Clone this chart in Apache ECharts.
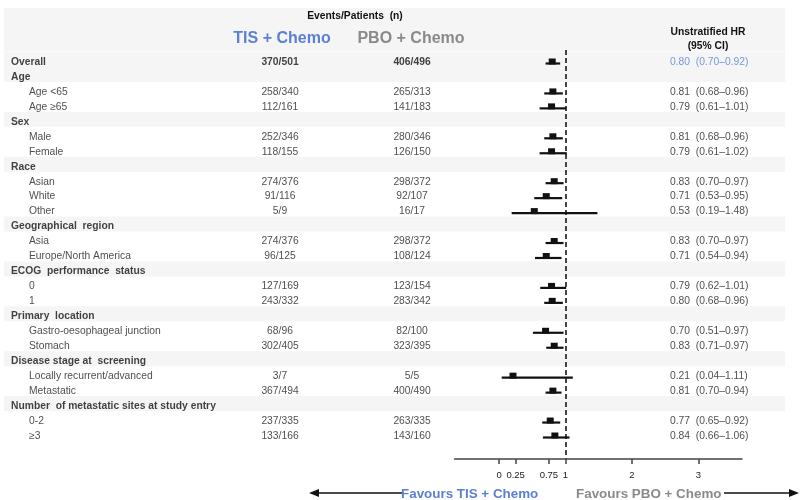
<!DOCTYPE html>
<html><head><meta charset="utf-8">
<script src="https://cdn.jsdelivr.net/npm/echarts@6/dist/echarts.min.js"></script>
<style>html,body{margin:0;padding:0;background:#fff}#c{width:800px;height:500px}</style>
</head><body><div id="c"></div>
<script>
// ---------- data ----------
const labels = [
  'Overall','Age','Age <65','Age \u226565','Sex','Male','Female','Race','Asian','White','Other',
  'Geographical  region','Asia','Europe/North America','ECOG  performance  status','0','1',
  'Primary  location','Gastro-oesophageal junction','Stomach','Disease stage at  screening',
  'Locally recurrent/advanced','Metastatic','Number  of metastatic sites at study entry','0-2','\u22653'
];
const bold = [1,1,0,0,1,0,0,1,0,0,0,1,0,0,1,0,0,1,0,0,1,0,0,1,0,0];
const tis = ['370/501','','258/340','112/161','','252/346','118/155','','274/376','91/116','5/9',
  '','274/376','96/125','','127/169','243/332','','68/96','302/405','','3/7','367/494','','237/335','133/166'];
const pbo = ['406/496','','265/313','141/183','','280/346','126/150','','298/372','92/107','16/17',
  '','298/372','108/124','','123/154','283/342','','82/100','323/395','','5/5','400/490','','263/335','143/160'];
const hr = [0.80,null,0.81,0.79,null,0.81,0.79,null,0.83,0.71,0.53,null,0.83,0.71,null,0.79,0.80,null,0.70,0.83,null,0.21,0.81,null,0.77,0.84];
const lo = [0.70,null,0.68,0.61,null,0.68,0.61,null,0.70,0.53,0.19,null,0.70,0.54,null,0.62,0.68,null,0.51,0.71,null,0.04,0.70,null,0.65,0.66];
const hi = [0.92,null,0.96,1.01,null,0.96,1.02,null,0.97,0.95,1.48,null,0.97,0.94,null,1.01,0.96,null,0.97,0.97,null,1.11,0.94,null,0.92,1.06];
const tickValues = [0, 0.25, 0.75, 1, 2, 3];

// ---------- layout ----------
const ROW0 = 62, STEP = 14.96;
const FONT = '"Liberation Sans", Arial, sans-serif';
const FS = 10.3;
const BLUE = '#5b7fd3', GRAY = '#8a8a8a', BAND = '#f5f5f5';
const fmt = v => v.toFixed(2);
const hrText = hr.map((v, i) => v == null ? '' : fmt(v) + '  (' + fmt(lo[i]) + '\u2013' + fmt(hi[i]) + ')');

const bandData = [[{coord: [4, (8 - ROW0) / STEP]}, {coord: [785, (51.5 - ROW0) / STEP]}]];
bold.forEach((b, i) => {
  if (b) bandData.push([{coord: [4, i - 10 / STEP]}, {coord: [785, i + 5 / STEP]}]);
});

const labelItems = labels.map((t, i) => ({
  value: [bold[i] ? 11 : 29, i],
  label: {show: true, position: 'right', distance: 0, formatter: t,
    fontFamily: FONT, fontSize: FS, fontWeight: bold[i] ? 'bold' : 'normal', color: bold[i] ? '#111' : '#222'}
}));
const colItems = (arr, x) => arr.map((t, i) => ({
  value: [x, i],
  label: {show: t !== '', position: 'inside', formatter: t,
    fontFamily: FONT, fontSize: FS, fontWeight: i === 0 ? 'bold' : 'normal', color: i === 0 ? '#111' : '#222'}
}));
const hrItems = hrText.map((t, i) => ({
  value: [670, i],
  label: {show: t !== '', position: 'right', distance: 0, formatter: t,
    fontFamily: FONT, fontSize: FS, color: i === 0 ? BLUE : '#222'}
}));
const forestData = [];
hr.forEach((v, i) => { if (v != null) forestData.push([v, lo[i], hi[i], i]); });

const textSeries = (data) => ({
  type: 'scatter', xAxisIndex: 0, yAxisIndex: 0, symbolSize: 0, silent: true, data: data, z: 5
});

const option = {
  animation: false,
  backgroundColor: '#fff',
  grid: [
    {left: 0, right: 0, top: 0, bottom: 0},
    {left: 454.5, right: 58, top: 50, height: 409}
  ],
  xAxis: [
    {gridIndex: 0, type: 'value', min: 0, max: 800, show: false},
    {gridIndex: 1, type: 'value', min: -0.67, max: 3.655,
      axisLine: {onZero: false, lineStyle: {color: '#444', width: 1.5}},
      axisTick: {customValues: tickValues, length: 5, lineStyle: {color: '#444', width: 1.5}},
      axisLabel: {customValues: tickValues, fontSize: 9.5, fontFamily: FONT, color: '#222', margin: 11},
      splitLine: {show: false}}
  ],
  yAxis: [
    {gridIndex: 0, type: 'value', inverse: true, min: -ROW0 / STEP, max: (500 - ROW0) / STEP, show: false},
    {gridIndex: 1, type: 'value', inverse: true, min: (50 - ROW0) / STEP, max: (459 - ROW0) / STEP, show: false}
  ],
  series: [
    {type: 'scatter', xAxisIndex: 0, yAxisIndex: 0, data: [], silent: true, z: 1,
      markArea: {silent: true, itemStyle: {color: BAND}, data: bandData}},
    textSeries(labelItems),
    textSeries(colItems(tis, 280)),
    textSeries(colItems(pbo, 412)),
    textSeries(hrItems),
    {type: 'custom', xAxisIndex: 1, yAxisIndex: 1, data: forestData, z: 6,
      encode: {x: [0, 1, 2], y: 3},
      renderItem: function (params, api) {
        const p = api.coord([api.value(0), api.value(3)]);
        const a = api.coord([api.value(1), api.value(3)]);
        const b = api.coord([api.value(2), api.value(3)]);
        return {type: 'group', children: [
          {type: 'line', shape: {x1: a[0], y1: a[1] + 1.5, x2: b[0], y2: b[1] + 1.5},
            style: {stroke: '#111', lineWidth: 2.2}},
          {type: 'rect', shape: {x: p[0] - 3.5, y: p[1] - 3.5, width: 7, height: 6}, style: {fill: '#111'}}
        ]};
      },
      markLine: {silent: true, symbol: 'none', label: {show: false},
        lineStyle: {color: '#444', width: 2, type: [5, 3]},
        data: [{xAxis: 1}]}
    }
  ],
  graphic: {
    elements: [
      {type: 'text', z: 100, x: 355, y: 16, style: {text: 'Events/Patients  (n)', font: 'bold 10.3px ' + FONT, fill: '#111', align: 'center', verticalAlign: 'middle'}},
      {type: 'text', z: 100, x: 282, y: 39, style: {text: 'TIS + Chemo', font: 'bold 16px ' + FONT, fill: BLUE, align: 'center', verticalAlign: 'middle'}},
      {type: 'text', z: 100, x: 411, y: 39, style: {text: 'PBO + Chemo', font: 'bold 16px ' + FONT, fill: GRAY, align: 'center', verticalAlign: 'middle'}},
      {type: 'text', z: 100, x: 708, y: 32, style: {text: 'Unstratified HR', font: 'bold 10.3px ' + FONT, fill: '#111', align: 'center', verticalAlign: 'middle'}},
      {type: 'text', z: 100, x: 708, y: 46, style: {text: '(95% CI)', font: 'bold 10.3px ' + FONT, fill: '#111', align: 'center', verticalAlign: 'middle'}},
      {type: 'line', z: 100, shape: {x1: 316, y1: 493, x2: 402, y2: 493}, style: {stroke: '#111', lineWidth: 1.3}},
      {type: 'polygon', z: 100, shape: {points: [[309, 493], [319, 489], [319, 497]]}, style: {fill: '#111'}},
      {type: 'line', z: 100, shape: {x1: 724, y1: 493, x2: 792, y2: 493}, style: {stroke: '#111', lineWidth: 1.3}},
      {type: 'polygon', z: 100, shape: {points: [[799, 493], [789, 489], [789, 497]]}, style: {fill: '#111'}},
      {type: 'text', z: 100, x: 401, y: 494, style: {text: 'Favours TIS + Chemo', font: 'bold 13.4px ' + FONT, fill: BLUE, align: 'left', verticalAlign: 'middle'}},
      {type: 'text', z: 100, x: 576, y: 494, style: {text: 'Favours PBO + Chemo', font: 'bold 13.4px ' + FONT, fill: GRAY, align: 'left', verticalAlign: 'middle'}}
    ]
  }
};
const chart = echarts.init(document.getElementById('c'), null, {renderer: 'canvas'});
chart.setOption(option);
</script>
</body></html>
